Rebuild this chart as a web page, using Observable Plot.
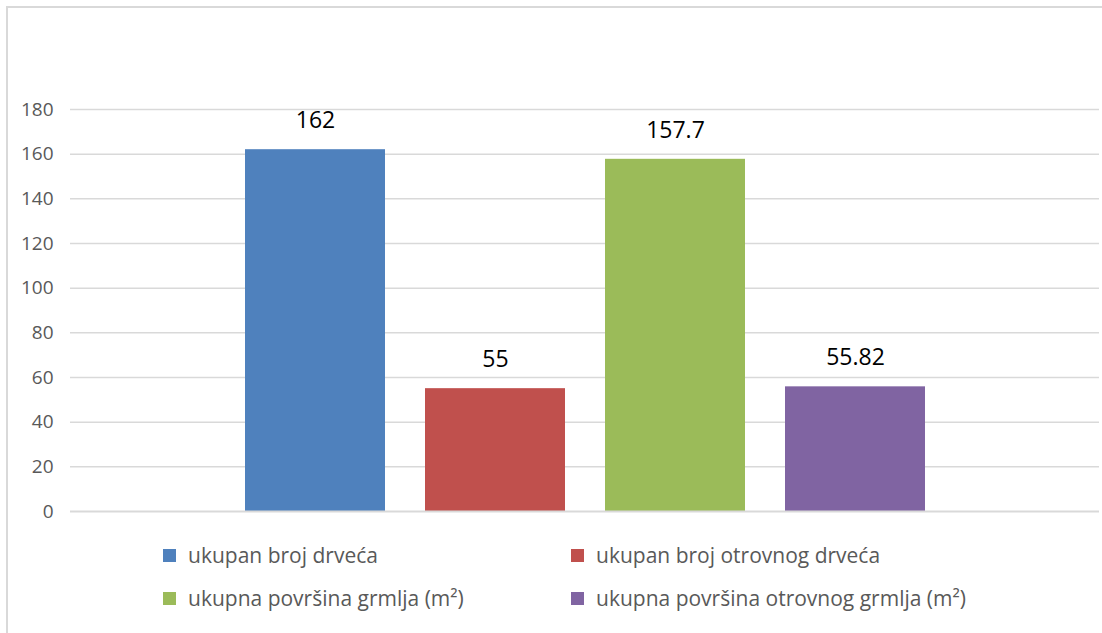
<!DOCTYPE html>
<html>
<head>
<meta charset="utf-8">
<script src="https://cdn.jsdelivr.net/npm/d3@7"></script>
<script src="https://cdn.jsdelivr.net/npm/@observablehq/plot@0.6"></script>
<style>
  body { margin: 0; background: #fff; }
  #wrap { position: relative; width: 1102px; height: 633px; overflow: hidden; font-family: "Open Sans", sans-serif; }
  #border { position: absolute; left: 6px; top: 6px; right: -10px; bottom: -10px; border-left: 2px solid #d9d9d9; border-top: 2px solid #d9d9d9; }
  #chart { position: absolute; left: 0; top: 0; }
  #legend { position: absolute; left: 163px; top: 540px; display: grid; grid-template-columns: 408px 420px; row-gap: 13px; color: #595959; font-size: 21px; }
  .item { display: flex; align-items: center; height: 30px; white-space: nowrap; }
  .sw { width: 13px; height: 13px; margin-right: 12px; flex: none; }
</style>
</head>
<body>
<div id="wrap">
  <div id="border"></div>
  <div id="chart"></div>
  <div id="legend"></div>
</div>
<script>
const series = ["ukupan broj drveća", "ukupan broj otrovnog drveća", "ukupna površina grmlja (m²)", "ukupna površina otrovnog grmlja (m²)"];
const values = [162, 55, 157.7, 55.82];
const labels = ["162", "55", "157.7", "55.82"];
const colors = ["#4f81bd", "#c0504d", "#9bbb59", "#8064a2"];
const yTicks = [0, 20, 40, 60, 80, 100, 120, 140, 160, 180];

const data = series.map((s, i) => ({series: s, value: values[i], label: labels[i]}));

const chart = Plot.plot({
  width: 1102,
  height: 530,
  marginLeft: 70,
  marginRight: 3,
  marginTop: 109,
  marginBottom: 19,
  style: {fontFamily: "'Open Sans', sans-serif", background: "transparent"},
  x: {domain: series, paddingInner: 0.224, paddingOuter: 0.962, axis: null},
  y: {domain: [0, 180], ticks: yTicks, axis: null},
  color: {domain: series, range: colors},
  marks: [
    Plot.gridY(yTicks.filter(d => d > 0), {stroke: "#d9d9d9", strokeOpacity: 1, strokeWidth: 1.5}),
    Plot.axisY({ticks: yTicks, label: null, tickSize: 0, tickPadding: 17, fontSize: 19, color: "#595959", tickFormat: d => String(d)}),
    Plot.barY(data, {x: "series", y: "value", fill: "series"}),
    Plot.ruleY([0], {stroke: "#d9d9d9", strokeWidth: 2}),
    Plot.text(data, {x: "series", y: "value", text: "label", dy: -29, fontSize: 23, fill: "#000"})
  ]
});
document.getElementById("chart").appendChild(chart);

const legend = document.getElementById("legend");
series.forEach((s, i) => {
  const it = document.createElement("div");
  it.className = "item";
  const sw = document.createElement("span");
  sw.className = "sw";
  sw.style.background = colors[i];
  const t = document.createElement("span");
  t.textContent = s;
  it.appendChild(sw);
  it.appendChild(t);
  legend.appendChild(it);
});
</script>
</body>
</html>
